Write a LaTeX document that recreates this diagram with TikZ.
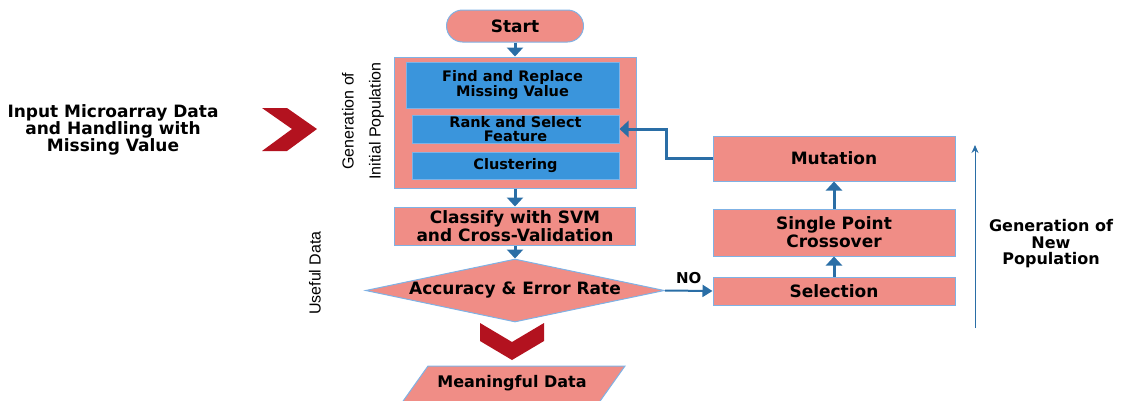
\documentclass[tikz,border=0pt]{standalone}
\usepackage{fontspec}
\setmainfont{DejaVu Sans}
\newfontfamily\sidefont{Liberation Sans}
\usetikzlibrary{arrows.meta,shapes.geometric}
\definecolor{salmon}{HTML}{F08D86}
\definecolor{edge}{HTML}{7FB2E5}
\definecolor{cellblue}{HTML}{3A95DC}
\definecolor{flow}{HTML}{2A6EA6}
\definecolor{chevron}{HTML}{B3121F}

\begin{document}
\begin{tikzpicture}[x=1pt,y=-1pt,
  box/.style={draw=edge,fill=salmon,line width=1pt,align=center,inner sep=0pt,font=\fontsize{17}{18}\selectfont\bfseries},
  cell/.style={box,fill=cellblue,font=\fontsize{14.5}{14}\selectfont\bfseries},
  flowarrow/.style={flow,line width=3pt,-{Triangle[width=16pt,length=9pt]}},
  side/.style={font=\fontsize{16}{27}\sidefont,align=center,rotate=90}]
\useasboundingbox (0,0) rectangle (1122,400);
% main column
\node[box,rounded corners=16pt,minimum width=137pt,minimum height=32pt] (start) at (515,26) {Start};
\node[box,minimum width=242pt,minimum height=131pt] (pop) at (515,122.5) {};
\node[cell,minimum width=213pt,minimum height=46pt] (find) at (512.5,85) {Find and Replace\\Missing Value};
\node[cell,minimum width=207pt,minimum height=28pt] (rank) at (515.5,129) {Rank and Select\\Feature};
\node[cell,minimum width=207pt,minimum height=27pt] (clust) at (515.5,165.5) {Clustering};
\node[box,minimum width=241pt,minimum height=38pt] (cls) at (515,226) {Classify with SVM\\and Cross-Validation};
\node[box,diamond,aspect=4.75,minimum width=299pt,minimum height=63pt] (acc) at (515,290.5) {Accuracy \& Error Rate};
% genetic loop
\node[box,minimum width=242pt,minimum height=28pt] (sel) at (834,291) {Selection};
\node[box,minimum width=242pt,minimum height=47pt] (cro) at (834,232.5) {Single Point\\Crossover};
\node[box,minimum width=242pt,minimum height=45pt] (mut) at (834,158.5) {Mutation};
% labels
\node[font=\fontsize{17}{17}\selectfont\bfseries,align=center] (input) at (113,130) {Input Microarray Data\\and Handling with\\Missing Value};
\node[side] (genlabel) at (363,121) {Generation of\\Initial Population};
\node[side] (useful) at (315,273) {Useful Data};
\node[font=\fontsize{16}{16.5}\selectfont\bfseries,align=center] (newpop) at (1051,244) {Generation of\\New\\Population};
% chevrons and output
\fill[chevron] (262,108) -- (287,108) -- (317,129) -- (287,151) -- (262,151) -- (292,129) -- cycle;
\fill[chevron] (480,323) -- (512,342) -- (544,323) -- (544,341) -- (512,360) -- (480,341) -- cycle;
\filldraw[fill=salmon,draw=edge,line width=1pt] (428,366) -- (625,366) -- (598,404) -- (401,404) -- cycle;
\node[font=\fontsize{16}{16}\selectfont\bfseries] (mdata) at (512,383) {Meaningful Data};
% connectors
\draw[flowarrow] (start) -- (pop);
\draw[flowarrow] (pop) -- (cls);
\draw[flowarrow] (cls) -- (acc);
\draw[flowarrow,line width=2pt,-{Triangle[width=12pt,length=10pt]}] (acc.east) -- node[above=3pt,text=black,font=\fontsize{15}{15}\selectfont\bfseries] (no) {NO} (sel.west);
\draw[flowarrow] (sel) -- (cro);
\draw[flowarrow] (cro) -- (mut);
\draw[flowarrow] (mut.west) -- ++(-46,0) |- (rank.east);
\coordinate (gbot) at (975,328);
\coordinate (gtop) at (975,145);
\draw[flow,line width=1pt,-{Stealth[length=8pt,width=7pt]}] (gbot) -- (gtop);
\end{tikzpicture}
\end{document}
